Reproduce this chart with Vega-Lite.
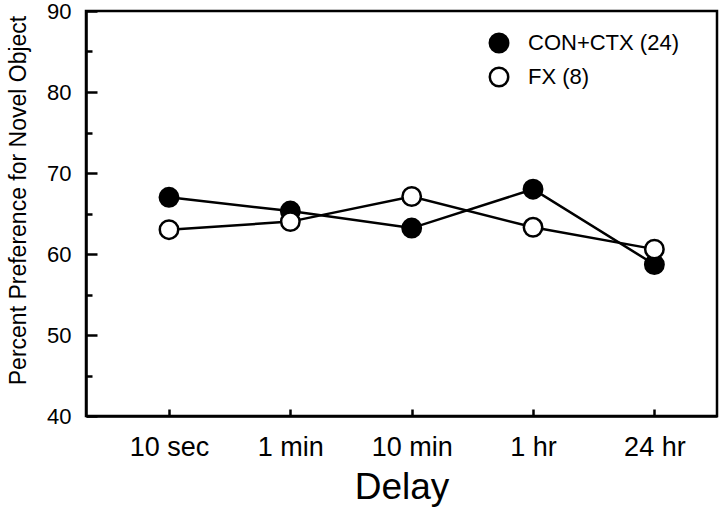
{
  "$schema": "https://vega.github.io/schema/vega-lite/v6.json",
  "autosize": {"type": "none"},
  "width": 631,
  "height": 405,
  "padding": {"left": 86, "top": 11, "right": 3, "bottom": 98},
  "background": "white",
  "config": {
    "font": "Liberation Sans",
    "view": {"stroke": "black", "strokeWidth": 2.5},
    "axis": {"grid": false, "domainColor": "black", "domainWidth": 2.5, "tickColor": "black", "tickWidth": 2.5, "labelColor": "black", "titleColor": "black", "titleFontWeight": "normal"}
  },
  "data": {"values": [
    {"delay": "10 sec", "group": "CON+CTX (24)", "pct": 67.0},
    {"delay": "1 min", "group": "CON+CTX (24)", "pct": 65.3},
    {"delay": "10 min", "group": "CON+CTX (24)", "pct": 63.2},
    {"delay": "1 hr", "group": "CON+CTX (24)", "pct": 68.0},
    {"delay": "24 hr", "group": "CON+CTX (24)", "pct": 58.7},
    {"delay": "10 sec", "group": "FX (8)", "pct": 63.0},
    {"delay": "1 min", "group": "FX (8)", "pct": 64.0},
    {"delay": "10 min", "group": "FX (8)", "pct": 67.1},
    {"delay": "1 hr", "group": "FX (8)", "pct": 63.3},
    {"delay": "24 hr", "group": "FX (8)", "pct": 60.6}
  ]},
  "encoding": {
    "x": {"field": "delay", "type": "ordinal", "sort": ["10 sec", "1 min", "10 min", "1 hr", "24 hr"],
      "scale": {"type": "point", "padding": 0.6, "align": 0.57},
      "axis": {"title": "Delay", "titleFontSize": 37, "titlePadding": 9, "labelFontSize": 27, "labelAngle": 0, "labelPadding": 25, "tickSize": -7}},
    "y": {"field": "pct", "type": "quantitative",
      "scale": {"domain": [40, 90], "nice": false, "zero": false},
      "axis": {"title": "Percent Preference for Novel Object", "titleFontSize": 23, "titlePadding": 16, "titleY": 189,
        "values": [40, 45, 50, 55, 60, 65, 70, 75, 80, 85, 90],
        "labelExpr": "datum.value % 10 === 0 ? datum.label : ''",
        "tickSize": {"condition": {"test": "datum.value % 10 === 0", "value": -11}, "value": -6},
        "labelFontSize": 22, "labelPadding": 26}}
  },
  "layer": [
    {"mark": {"type": "line", "color": "black", "strokeWidth": 2.5},
     "encoding": {"detail": {"field": "group"}}},
    {"mark": {"type": "point", "shape": "circle", "size": 340, "stroke": "black", "strokeWidth": 2.5, "opacity": 1, "filled": false},
     "encoding": {
       "fill": {"field": "group", "type": "nominal", "scale": {"domain": ["CON+CTX (24)", "FX (8)"], "range": ["black", "white"]},
         "legend": {"title": null, "orient": "none", "legendX": 402, "legendY": 21, "labelFontSize": 22, "labelColor": "black", "symbolSize": 340, "symbolStrokeColor": "black", "symbolStrokeWidth": 2.5, "symbolType": "circle", "labelOffset": 18, "rowPadding": 4, "labelFont": "Liberation Sans"}},
       "fillOpacity": {"value": 1}
     }}
  ]
}
